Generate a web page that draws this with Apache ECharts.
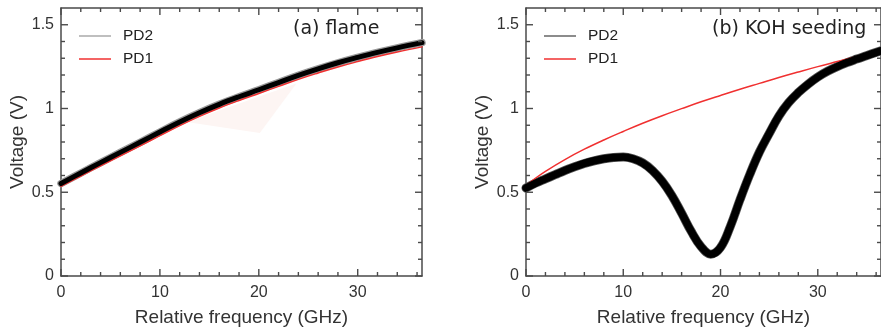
<!DOCTYPE html>
<html>
<head>
<meta charset="utf-8">
<script src="https://cdn.jsdelivr.net/npm/echarts@6/dist/echarts.min.js"></script>
<style>html,body{margin:0;padding:0;background:#fff}#main{width:881px;height:332px}</style>
</head>
<body>
<div id="main"></div>
<script>
// (a) flame
var freqA = [0, 2, 4, 6, 8, 10, 12, 14, 16, 18, 20, 22, 24, 26, 28, 30, 32, 34, 36.5];
var pd2A = [0.552, 0.615, 0.677, 0.738, 0.798, 0.86, 0.92, 0.975, 1.025, 1.07, 1.112, 1.155, 1.198, 1.237, 1.273, 1.305, 1.335, 1.362, 1.393];
var pd1A = [0.535, 0.597, 0.658, 0.718, 0.777, 0.838, 0.898, 0.953, 1.003, 1.048, 1.09, 1.132, 1.174, 1.212, 1.248, 1.28, 1.31, 1.337, 1.368];
// faint shaded patch in (a)
var patchFreq = [12.7, 20.1, 23.8];
var patchVolt = [0.92, 0.853, 1.15];

// (b) KOH seeding
var freqB = [0, 1, 2, 3, 4, 5, 6, 7, 8, 9, 10, 11, 12, 13, 14, 15, 16, 17, 18, 19, 20, 21, 22, 23, 24, 25, 26, 27, 28, 29, 30, 31, 32, 33, 34, 35, 36.5];
var pd2B = [0.525, 0.555, 0.58, 0.605, 0.63, 0.652, 0.672, 0.688, 0.70, 0.708, 0.71, 0.70, 0.675, 0.63, 0.565, 0.48, 0.375, 0.265, 0.175, 0.13, 0.17, 0.295, 0.455, 0.605, 0.74, 0.85, 0.955, 1.035, 1.095, 1.145, 1.188, 1.222, 1.25, 1.274, 1.295, 1.315, 1.345];
var freqB1 = [0, 1, 2, 4, 6, 8, 10, 12, 14, 16, 18, 20, 22, 24, 26, 28, 30, 32, 34, 36.5];
var pd1B = [0.54, 0.585, 0.625, 0.695, 0.757, 0.812, 0.863, 0.912, 0.957, 0.999, 1.04, 1.078, 1.115, 1.15, 1.185, 1.218, 1.25, 1.28, 1.31, 1.352];

var xLabels = [0, 10, 20, 30];
var yLabels = [0, 0.5, 1, 1.5];
var X_MAX = 36.5, Y_MAX = 1.6;

// tick marks: { v: value, dim: 'x' | 'y', len: pixels }
var tickMarks = [];
for (var i = 0; i <= 18; i++) tickMarks.push({ v: i * 2, dim: 'x', len: i % 5 === 0 ? 7 : 4 });
for (var j = 0; j <= 15; j++) tickMarks.push({ v: +(j * 0.1).toFixed(1), dim: 'y', len: j % 5 === 0 ? 7 : 4 });

var chart = echarts.init(document.getElementById('main'));

var AXIS_COLOR = '#4a4a4a';
var FONT = 'Liberation Sans, Arial, sans-serif';
var LINE_ICON = 'path://M0,0H32V1.5H0Z';

function pairs(xs, ys) {
  return xs.map(function (x, i) { return [x, ys[i]]; });
}

var axisLine = { show: true, onZero: false, lineStyle: { color: AXIS_COLOR, width: 1.5 } };

function xAxes(g) {
  return [{
    gridIndex: g, type: 'value', position: 'bottom', min: 0, max: X_MAX, interval: 10,
    splitLine: { show: false }, axisLine: axisLine, axisTick: { show: false },
    axisLabel: {
      showMaxLabel: false, margin: 9, fontSize: 16, color: '#333', fontFamily: FONT,
      formatter: function (v) { return xLabels.indexOf(v) >= 0 ? String(v) : ''; }
    },
    name: 'Relative frequency (GHz)', nameLocation: 'middle', nameGap: 32,
    nameTextStyle: { fontSize: 19, color: '#333', fontFamily: FONT }
  }, {
    gridIndex: g, type: 'value', position: 'top', min: 0, max: X_MAX,
    splitLine: { show: false }, axisLine: axisLine, axisTick: { show: false }, axisLabel: { show: false }
  }];
}

function yAxes(g) {
  return [{
    gridIndex: g, type: 'value', position: 'left', min: 0, max: Y_MAX, interval: 0.5,
    splitLine: { show: false }, axisLine: axisLine, axisTick: { show: false },
    axisLabel: {
      showMaxLabel: false, margin: 7, fontSize: 16, color: '#333', fontFamily: FONT,
      formatter: function (v) { return yLabels.indexOf(v) >= 0 ? String(v) : ''; }
    },
    name: 'Voltage (V)', nameLocation: 'middle', nameGap: 34,
    nameTextStyle: { fontSize: 19, color: '#333', fontFamily: FONT }
  }, {
    gridIndex: g, type: 'value', position: 'right', min: 0, max: Y_MAX,
    splitLine: { show: false }, axisLine: axisLine, axisTick: { show: false }, axisLabel: { show: false }
  }];
}

// inward ticks on all four sides of a panel, placed through the panel's axes
function tickSeries(axis) {
  return {
    type: 'custom', xAxisIndex: axis, yAxisIndex: axis, silent: true, z: 10, clip: false,
    data: tickMarks.map(function (t) { return [0, 0]; }),
    renderItem: function (params, api) {
      var t = tickMarks[params.dataIndex];
      var st = { stroke: AXIS_COLOR, lineWidth: 1.4, fill: null };
      var a, b;
      if (t.dim === 'x') {
        a = api.coord([t.v, 0]); b = api.coord([t.v, Y_MAX]);
        return { type: 'group', children: [
          { type: 'line', shape: { x1: a[0], y1: a[1], x2: a[0], y2: a[1] - t.len }, style: st },
          { type: 'line', shape: { x1: b[0], y1: b[1], x2: b[0], y2: b[1] + t.len }, style: st }
        ] };
      }
      a = api.coord([0, t.v]); b = api.coord([X_MAX, t.v]);
      return { type: 'group', children: [
        { type: 'line', shape: { x1: a[0], y1: a[1], x2: a[0] + t.len, y2: a[1] }, style: st },
        { type: 'line', shape: { x1: b[0], y1: b[1], x2: b[0] - t.len, y2: b[1] }, style: st }
      ] };
    }
  };
}

function lineSeries(name, axis, data, color, width, z) {
  return {
    name: name, type: 'line', xAxisIndex: axis, yAxisIndex: axis, data: data,
    symbol: 'none', smooth: 0.4, z: z, silent: true,
    lineStyle: { color: color, width: width, cap: 'round', join: 'round' }
  };
}

function legendAt(left, pd2Color) {
  return {
    left: left, top: 23, orient: 'vertical', itemWidth: 32, itemHeight: 14, itemGap: 7,
    selectedMode: false,
    textStyle: { fontSize: 15.5, color: '#222', fontFamily: FONT, padding: [0, 0, 0, 7] },
    data: [
      { name: 'PD2', icon: LINE_ICON, itemStyle: { color: pd2Color, borderWidth: 0 } },
      { name: 'PD1', icon: LINE_ICON, itemStyle: { color: '#f03030', borderWidth: 0 } }
    ]
  };
}

var titleStyle = { fontFamily: 'DejaVu Sans', fontSize: 19, fontWeight: 'normal', color: '#222' };

var option = {
  backgroundColor: '#fff',
  animation: false,
  title: [
    { text: '(a) flame', left: 293, top: 20, padding: 0, textStyle: titleStyle },
    { text: '(b) KOH seeding', left: 712, top: 20, padding: 0, textStyle: titleStyle }
  ],
  legend: [legendAt(74, '#aaa'), legendAt(539, '#666')],
  grid: [
    { left: 61, top: 8, width: 361, height: 268 },
    { left: 526, top: 8, width: 361, height: 269 }
  ],
  xAxis: xAxes(0).concat(xAxes(1)),
  yAxis: yAxes(0).concat(yAxes(1)),
  series: [
    {
      type: 'custom', xAxisIndex: 0, yAxisIndex: 0, silent: true, z: 1, data: [0],
      renderItem: function (params, api) {
        var pts = patchFreq.map(function (f, i) { return api.coord([f, patchVolt[i]]); });
        return { type: 'polygon', shape: { points: pts }, style: { fill: '#fdf5f3' } };
      }
    },
    tickSeries(0),
    tickSeries(2),
    lineSeries('PD2', 0, pairs(freqA, pd2A), '#999', 7.5, 2),
    lineSeries('PD1', 0, pairs(freqA, pd1A), '#f03030', 1.5, 3),
    lineSeries('PD2', 0, pairs(freqA, pd2A), '#000', 5, 4),
    lineSeries('PD2', 2, pairs(freqB, pd2B), '#555', 9, 2),
    lineSeries('PD1', 2, pairs(freqB1, pd1B), '#f03030', 1.5, 3),
    lineSeries('PD2', 2, pairs(freqB, pd2B), '#000', 7.5, 4)
  ]
};

chart.setOption(option);
</script>
</body>
</html>
